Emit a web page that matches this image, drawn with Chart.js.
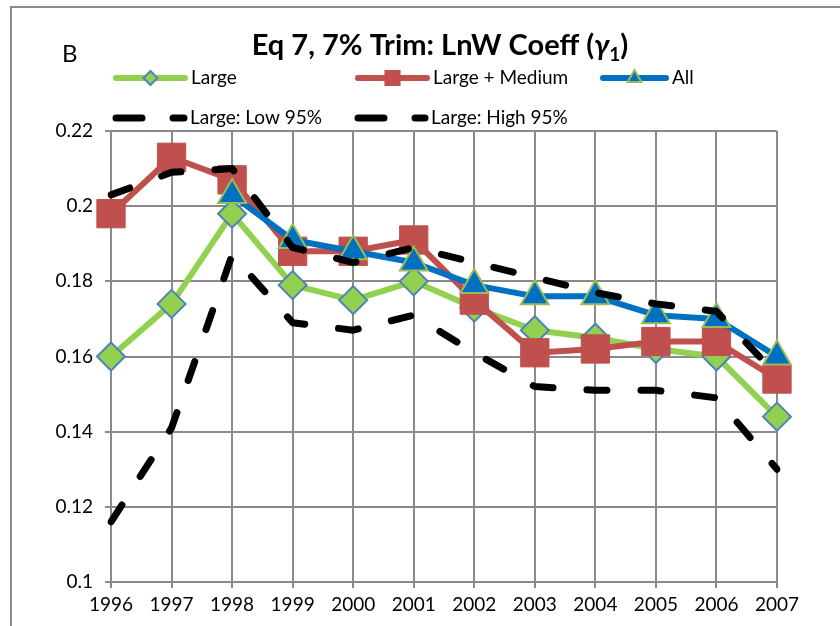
<!DOCTYPE html>
<html lang="en">
<head>
    <meta charset="UTF-8">
    <title>Eq 7, 7% Trim: LnW Coeff</title>
    <script src="https://cdnjs.cloudflare.com/ajax/libs/Chart.js/4.4.0/chart.umd.min.js"></script>
    <style>
        html, body { margin: 0; padding: 0; background: #fff; overflow: hidden; }
        #wrap { position: relative; width: 840px; height: 626px; }
    </style>
</head>
<body>
    <div id="wrap">
        <canvas id="chart" width="840" height="626"></canvas>
    </div>

    <script>
        // values
        const years = ['1996', '1997', '1998', '1999', '2000', '2001', '2002', '2003', '2004', '2005', '2006', '2007'];
        const large       = [0.160, 0.174, 0.198, 0.179, 0.175, 0.180, 0.173, 0.167, 0.165, 0.162, 0.160, 0.144];
        const largeMedium = [0.198, 0.213, 0.207, 0.188, 0.188, 0.191, 0.175, 0.161, 0.162, 0.164, 0.164, 0.154];
        const allFirms    = [null, null, 0.203, 0.191, 0.188, 0.185, 0.179, 0.176, 0.176, 0.171, 0.170, 0.160];
        const largeLow95  = [0.116, 0.141, 0.187, 0.169, 0.167, 0.171, 0.161, 0.152, 0.151, 0.151, 0.149, 0.130];
        const largeHigh95 = [0.203, 0.209, 0.210, 0.189, 0.185, 0.189, 0.185, 0.181, 0.177, 0.174, 0.172, 0.155];

        const FONT = 'Lato, "Open Sans", sans-serif';
        const GRID = '#8a8a8a';
        const GREEN = '#92D050', RED = '#C0504D', BLUE = '#0070C0';
        const DASH = [20, 34];

        // title, panel letter, legend and outer frame
        const decor = {
            id: 'decor',
            beforeDraw(chart) {
                const ctx = chart.ctx;
                ctx.save();
                ctx.strokeStyle = '#8c8c8c';
                ctx.lineWidth = 2;
                ctx.beginPath();
                ctx.moveTo(11, 626);
                ctx.lineTo(11, 7);
                ctx.lineTo(840, 7);
                ctx.stroke();
                ctx.restore();
            },
            afterDraw(chart) {
                const ctx = chart.ctx;
                ctx.save();
                ctx.fillStyle = '#000';
                ctx.textBaseline = 'alphabetic';

                // panel letter
                ctx.font = '24px ' + FONT;
                ctx.fillText('B', 62, 62);

                // title with italic gamma and subscript
                const parts = [
                    { t: 'Eq 7, 7% Trim: LnW Coeff (', f: 'bold 29px ' + FONT, dy: 0 },
                    { t: 'γ', f: 'italic bold 29px ' + FONT, dy: 0 },
                    { t: '1', f: 'bold 19px ' + FONT, dy: 6 },
                    { t: ')', f: 'bold 29px ' + FONT, dy: 0 }
                ];
                let total = 0;
                parts.forEach(p => { ctx.font = p.f; p.w = ctx.measureText(p.t).width; total += p.w; });
                let x = 440 - total / 2;
                parts.forEach(p => { ctx.font = p.f; ctx.fillText(p.t, x, 55 + p.dy); x += p.w; });

                // legend
                ctx.font = '19px ' + FONT;
                ctx.textBaseline = 'middle';
                const items = [
                    { label: 'Large', x0: 113, x1: 188, y: 78, color: GREEN, style: 'rectRot', r: 7, fill: GREEN, border: '#4F81BD' },
                    { label: 'Large + Medium', x0: 355, x1: 430, y: 78, color: RED, style: 'rect', r: 10, fill: RED, border: RED },
                    { label: 'All', x0: 600, x1: 669, y: 78, color: BLUE, style: 'triangle', r: 8, fill: BLUE, border: '#9BBB59' },
                    { label: 'Large: Low 95%', x0: 113, x1: 187, y: 118, color: '#000', dash: true },
                    { label: 'Large: High 95%', x0: 355, x1: 428, y: 118, color: '#000', dash: true }
                ];
                items.forEach(it => {
                    ctx.save();
                    ctx.strokeStyle = it.color;
                    ctx.lineCap = 'round';
                    if (it.dash) {
                        ctx.lineWidth = 7;
                        ctx.setLineDash([26, 31]);
                        ctx.beginPath();
                        ctx.moveTo(it.x0 + 3, it.y);
                        ctx.lineTo(it.x1 - 3, it.y);
                        ctx.stroke();
                    } else {
                        ctx.lineWidth = 6;
                        ctx.beginPath();
                        ctx.moveTo(it.x0 + 3, it.y);
                        ctx.lineTo(it.x1 - 3, it.y);
                        ctx.stroke();
                        ctx.fillStyle = it.fill;
                        ctx.strokeStyle = it.border;
                        ctx.lineWidth = 2;
                        Chart.helpers.drawPoint(ctx, { pointStyle: it.style, radius: it.r, rotation: 0, borderWidth: 2 }, (it.x0 + it.x1) / 2, it.y);
                    }
                    ctx.restore();
                    ctx.fillStyle = '#000';
                    ctx.fillText(it.label, it.x1 + 3, it.y);
                });
                ctx.restore();
            }
        };

        const lineDefaults = {
            tension: 0,
            borderWidth: 6,
            borderJoinStyle: 'round',
            borderCapStyle: 'round',
            spanGaps: false
        };

        new Chart(document.getElementById('chart').getContext('2d'), {
            type: 'line',
            data: {
                labels: years,
                datasets: [
                    Object.assign({}, lineDefaults, {
                        label: 'Large', data: large, order: 5,
                        borderColor: GREEN, backgroundColor: GREEN,
                        pointStyle: 'rectRot', pointRadius: 14,
                        pointBackgroundColor: GREEN, pointBorderColor: '#4F81BD', pointBorderWidth: 2
                    }),
                    Object.assign({}, lineDefaults, {
                        label: 'Large + Medium', data: largeMedium, order: 4,
                        borderColor: RED, backgroundColor: RED,
                        pointStyle: 'rect', pointRadius: 20,
                        pointBackgroundColor: RED, pointBorderColor: RED, pointBorderWidth: 1
                    }),
                    Object.assign({}, lineDefaults, {
                        label: 'All', data: allFirms, order: 3,
                        borderColor: BLUE, backgroundColor: BLUE,
                        pointStyle: 'triangle', pointRadius: 16,
                        pointBackgroundColor: BLUE, pointBorderColor: '#9BBB59', pointBorderWidth: 2
                    }),
                    Object.assign({}, lineDefaults, {
                        label: 'Large: Low 95%', data: largeLow95, order: 2,
                        borderColor: '#000', borderWidth: 7, borderDash: DASH,
                        pointRadius: 0
                    }),
                    Object.assign({}, lineDefaults, {
                        label: 'Large: High 95%', data: largeHigh95, order: 1,
                        borderColor: '#000', borderWidth: 7, borderDash: DASH,
                        pointRadius: 0
                    })
                ]
            },
            options: {
                responsive: false,
                animation: false,
                layout: { padding: { top: 131, right: 63, left: 0, bottom: 0 } },
                plugins: {
                    legend: { display: false },
                    title: { display: false },
                    tooltip: { enabled: false }
                },
                scales: {
                    x: {
                        offset: false,
                        grid: { color: GRID, lineWidth: 2, tickLength: 6, offset: false },
                        border: { color: GRID, width: 2 },
                        ticks: {
                            color: '#000', font: { family: FONT, size: 19 },
                            maxRotation: 0, autoSkip: false, padding: 5
                        },
                        afterFit(s) { s.height = 44; }
                    },
                    y: {
                        min: 0.1,
                        max: 0.22,
                        grid: { color: GRID, lineWidth: 2, tickLength: 6 },
                        border: { color: GRID, width: 2 },
                        ticks: {
                            stepSize: 0.02,
                            color: '#000', font: { family: FONT, size: 19 },
                            padding: 12,
                            callback: v => String(+v.toFixed(2))
                        },
                        afterFit(s) { s.width = 111; }
                    }
                }
            },
            plugins: [decor]
        });
    </script>
</body>
</html>
